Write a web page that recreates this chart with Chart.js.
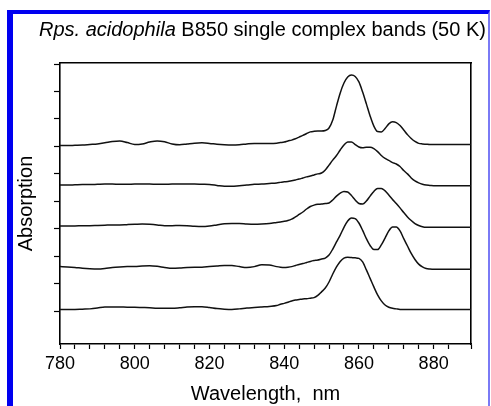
<!DOCTYPE html>
<html>
<head>
<meta charset="utf-8">
<script src="https://cdn.jsdelivr.net/npm/chart.js@4.4.1/dist/chart.umd.min.js"></script>
<style>
  html, body { margin: 0; padding: 0; background: #fff; }
  #wrap { position: relative; width: 491px; height: 406px; overflow: hidden; }
  #chart { position: absolute; left: 0; top: 0; }
  #frame {
    position: absolute; left: 7px; top: 10px; width: 475px; height: 420px;
    border-left: 6px solid #0000f0; border-top: 4px solid #0000f0; border-right: 2px solid #7a7af5;
  }
  #title {
    position: absolute; left: 39px; top: 18px; white-space: nowrap;
    font-family: "Liberation Sans", Arial, sans-serif; font-size: 20px; line-height: 22px; color: #000;
  }
</style>
</head>
<body>
<div id="wrap">
  <canvas id="chart" width="491" height="406"></canvas>
  <div id="frame"></div>
  <div id="title"><i>Rps. acidophila</i> B850 single complex bands (50 K)</div>
</div>
<script>
// wavelength grid (nm): 2 nm steps on the flat part, 1 nm steps through the bands
const wavelengths = [
  780, 782, 784, 786, 788, 790, 792, 794, 796, 798, 800, 802, 804, 806, 808,
  810, 812, 814, 816, 818, 820, 822, 824, 826, 828, 830, 832, 834, 836, 838,
  839, 840, 841, 842, 843, 844, 845, 846, 847, 848, 849, 850, 851, 852, 853, 854,
  855, 856, 857, 858, 859, 860, 861, 862, 863, 864, 865, 866, 867, 868, 869, 870,
  871, 872, 873, 874, 875, 876, 877, 878, 879, 880,
  882, 884, 886, 888, 890
];

// absorption traces, each offset vertically (bottom to top)
const band1 = [
  1.06, 1.06, 1.06, 1.07, 1.08, 1.11, 1.15, 1.15, 1.15, 1.14, 1.14, 1.13, 1.12, 1.10, 1.10,
  1.10, 1.12, 1.15, 1.16, 1.16, 1.13, 1.09, 1.07, 1.06, 1.08, 1.11, 1.13, 1.15, 1.17, 1.20,
  1.25, 1.28, 1.32, 1.37, 1.40, 1.42, 1.44, 1.45, 1.47, 1.49, 1.57, 1.70, 1.84, 2.06, 2.35, 2.61,
  2.81, 2.93, 2.96, 2.95, 2.94, 2.92, 2.79, 2.50, 2.19, 1.88, 1.59, 1.37, 1.22, 1.14, 1.10, 1.08,
  1.06, 1.06, 1.06, 1.06, 1.06, 1.06, 1.06, 1.06, 1.06, 1.06,
  1.06, 1.06, 1.06, 1.06, 1.06
];
const band2 = [
  2.62, 2.61, 2.59, 2.56, 2.54, 2.53, 2.55, 2.59, 2.61, 2.62, 2.62, 2.64, 2.65, 2.63, 2.59,
  2.56, 2.57, 2.59, 2.60, 2.60, 2.62, 2.64, 2.66, 2.66, 2.62, 2.59, 2.62, 2.69, 2.68, 2.62,
  2.60, 2.59, 2.60, 2.62, 2.66, 2.70, 2.73, 2.77, 2.81, 2.84, 2.86, 2.90, 2.93, 3.04, 3.26, 3.52,
  3.77, 4.05, 4.28, 4.39, 4.37, 4.21, 3.94, 3.64, 3.39, 3.24, 3.24, 3.41, 3.66, 3.92, 4.06, 4.06,
  3.92, 3.64, 3.37, 3.10, 2.88, 2.71, 2.61, 2.55, 2.53, 2.52,
  2.52, 2.52, 2.52, 2.52, 2.52
];
const band3 = [
  4.10, 4.10, 4.10, 4.11, 4.11, 4.12, 4.13, 4.14, 4.14, 4.15, 4.16, 4.17, 4.16, 4.14, 4.11,
  4.11, 4.12, 4.11, 4.09, 4.08, 4.10, 4.14, 4.18, 4.19, 4.19, 4.17, 4.16, 4.17, 4.19, 4.23,
  4.25, 4.27, 4.30, 4.35, 4.43, 4.52, 4.61, 4.72, 4.81, 4.86, 4.89, 4.90, 4.92, 4.94, 5.05, 5.19,
  5.30, 5.36, 5.34, 5.21, 5.05, 4.92, 4.90, 5.01, 5.19, 5.36, 5.47, 5.47, 5.38, 5.23, 5.07, 4.92,
  4.76, 4.59, 4.43, 4.30, 4.19, 4.12, 4.07, 4.05, 4.05, 4.05,
  4.05, 4.05, 4.05, 4.05, 4.05
];
const band4 = [
  5.59, 5.59, 5.60, 5.61, 5.61, 5.62, 5.63, 5.63, 5.62, 5.62, 5.63, 5.63, 5.63, 5.62, 5.62,
  5.63, 5.63, 5.63, 5.63, 5.62, 5.61, 5.58, 5.55, 5.55, 5.57, 5.59, 5.62, 5.63, 5.65, 5.67,
  5.69, 5.71, 5.72, 5.75, 5.78, 5.81, 5.85, 5.89, 5.92, 5.96, 6.00, 6.03, 6.14, 6.32, 6.50, 6.67,
  6.87, 7.05, 7.16, 7.16, 7.07, 6.98, 6.95, 6.97, 6.97, 6.92, 6.81, 6.67, 6.56, 6.49, 6.41, 6.36,
  6.27, 6.12, 6.00, 5.85, 5.74, 5.67, 5.62, 5.59, 5.58, 5.57,
  5.57, 5.57, 5.57, 5.57, 5.57
];
const band5 = [
  7.03, 7.03, 7.04, 7.05, 7.07, 7.09, 7.13, 7.18, 7.20, 7.14, 7.07, 7.09, 7.16, 7.20, 7.17,
  7.09, 7.06, 7.09, 7.12, 7.13, 7.11, 7.08, 7.06, 7.05, 7.06, 7.09, 7.11, 7.11, 7.11, 7.12,
  7.14, 7.16, 7.20, 7.23, 7.28, 7.34, 7.40, 7.47, 7.53, 7.55, 7.56, 7.56, 7.58, 7.67, 7.96, 8.47,
  8.95, 9.31, 9.53, 9.60, 9.55, 9.35, 8.98, 8.55, 8.11, 7.74, 7.54, 7.53, 7.65, 7.82, 7.90, 7.87,
  7.76, 7.60, 7.43, 7.29, 7.18, 7.11, 7.09, 7.08, 7.07, 7.07,
  7.07, 7.07, 7.07, 7.07, 7.07
];

const bands = [band1, band2, band3, band4, band5];
const yTickValues = [1, 2, 3, 4, 5, 6, 7, 8, 9, 10];

const ctx = document.getElementById("chart").getContext("2d");
const labelFont = { family: "'Liberation Sans', Arial, sans-serif", size: 18 };

new Chart(ctx, {
  type: "line",
  data: {
    datasets: bands.map(b => ({
      data: wavelengths.map((w, i) => ({ x: w, y: b[i] })),
      borderColor: "#111",
      borderWidth: 1.5,
      pointRadius: 0,
      fill: false,
      cubicInterpolationMode: "monotone"
    }))
  },
  options: {
    responsive: false,
    animation: false,
    layout: { padding: { left: 0, top: 63, right: 20, bottom: 0 } },
    plugins: { legend: { display: false }, tooltip: { enabled: false } },
    scales: {
      x: {
        type: "linear", position: "bottom", min: 780, max: 890,
        afterFit: s => { s.height = 62; },
        ticks: {
          stepSize: 4, autoSkip: false, maxRotation: 0, color: "#000", font: labelFont, padding: 4,
          callback: v => (v % 20 === 0 ? String(v) : "")
        },
        grid: { drawOnChartArea: false, tickLength: 5, color: "#000", tickWidth: 1.2 },
        border: { color: "#000", width: 1.6 },
        title: { display: true, text: "Wavelength,  nm", color: "#000", font: { family: labelFont.family, size: 20 }, padding: { top: 0, bottom: 0 } }
      },
      xTop: {
        type: "linear", position: "top", min: 780, max: 890,
        afterFit: s => { s.height = 0; },
        ticks: { display: false },
        grid: { display: false },
        border: { color: "#000", width: 1.4 }
      },
      y: {
        type: "linear", position: "left", min: -0.2, max: 10.04,
        afterFit: s => { s.width = 60; },
        afterBuildTicks: s => { s.ticks = yTickValues.map(v => ({ value: v })); },
        ticks: { display: false },
        grid: { drawOnChartArea: false, tickLength: 6, color: "#000", tickWidth: 1.2 },
        border: { color: "#000", width: 1.6 },
        title: { display: true, text: "Absorption", color: "#000", font: { family: labelFont.family, size: 20 }, padding: { top: 14, bottom: 0 } }
      },
      yRight: {
        type: "linear", position: "right", min: -0.2, max: 10.04,
        afterFit: s => { s.width = 0; },
        ticks: { display: false },
        grid: { display: false },
        border: { color: "#000", width: 1.6 }
      }
    }
  }
});
</script>
</body>
</html>
